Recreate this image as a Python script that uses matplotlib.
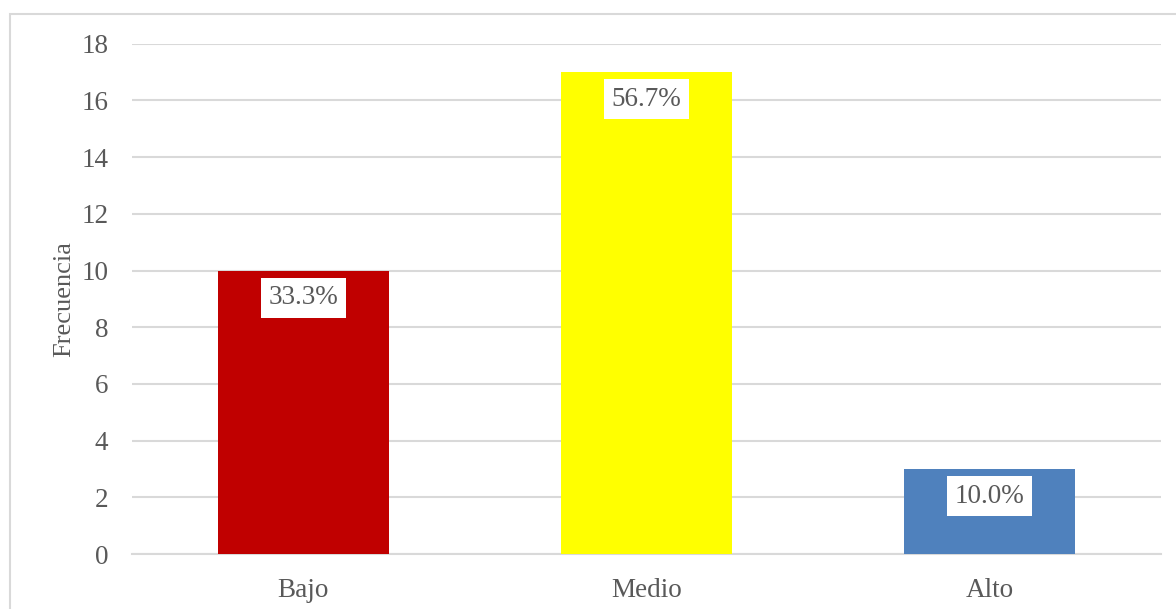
import matplotlib.pyplot as plt
from matplotlib.patches import Rectangle

categorias = ['Bajo', 'Medio', 'Alto']
frecuencias = [10, 17, 3]
porcentajes = ['33.3%', '56.7%', '10.0%']
colores = ['#C00000', '#FFFF00', '#4F81BD']

plt.rcParams['font.family'] = ['Liberation Serif', 'DejaVu Serif']
gris = '#595959'

fig = plt.figure(figsize=(11.76, 6.09), dpi=100)
ax = fig.add_axes([0.1122, 0.0903, 0.8750, 0.8379])

# marco exterior del grafico
fig.patches.append(Rectangle((0.0085, -0.05), 1.2, 0.05 + 0.977, transform=fig.transFigure,
                             fill=False, edgecolor='#d9d9d9', linewidth=1.5))

x = range(len(categorias))
barras = ax.bar(x, frecuencias, width=0.5, color=colores, zorder=3)

for bar, txt in zip(barras, porcentajes):
    ax.annotate(txt, (bar.get_x() + bar.get_width() / 2, bar.get_height()),
                xytext=(0, -19.5), textcoords='offset points',
                ha='center', va='center', fontsize=19.5, color=gris, zorder=4,
                bbox=dict(boxstyle='square,pad=0.28', facecolor='white', edgecolor='none'))

ax.set_xlim(-0.5, 2.5)
ax.set_ylim(0, 18)
ax.set_yticks(range(0, 19, 2))
ax.set_xticks(list(x))
ax.set_xticklabels(categorias)
ax.grid(axis='y', color='#d9d9d9', linewidth=1.5, zorder=0)
for s in ['top', 'right', 'left']:
    ax.spines[s].set_visible(False)
ax.spines['bottom'].set_color('#d9d9d9')
ax.spines['bottom'].set_linewidth(1.5)
ax.tick_params(axis='both', length=0, labelsize=19.5, labelcolor=gris)
ax.tick_params(axis='y', pad=17)
ax.tick_params(axis='x', pad=17)
ax.set_ylabel('Frecuencia', fontsize=19, color=gris, labelpad=4)

fig.savefig('out.png', dpi=100)
